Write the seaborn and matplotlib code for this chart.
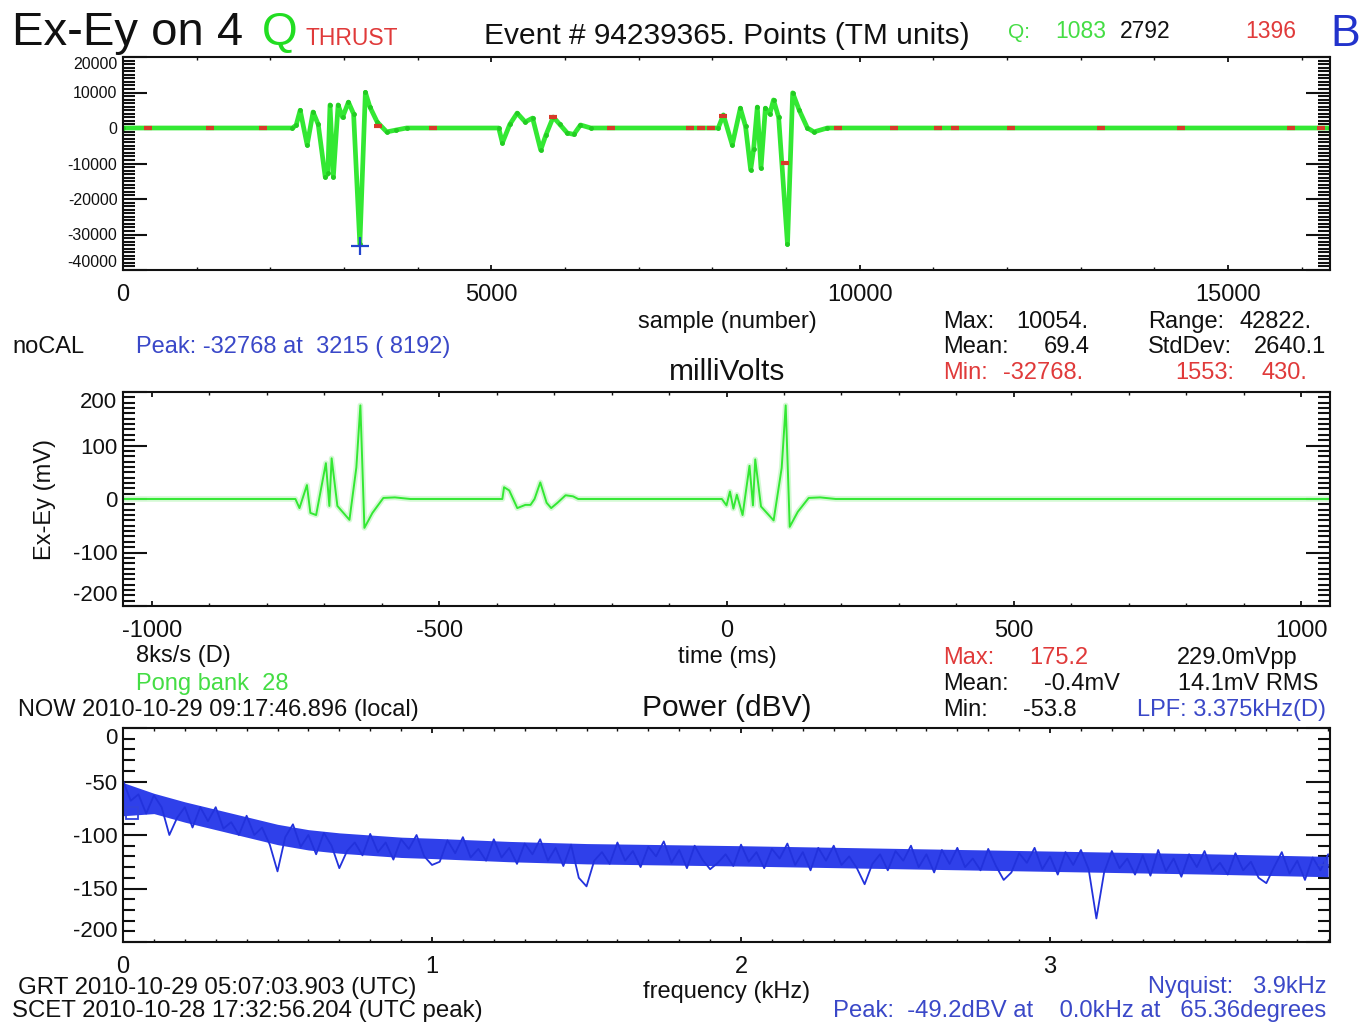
import numpy as np
import matplotlib
matplotlib.use("Agg")
import matplotlib.pyplot as plt
from matplotlib.ticker import MultipleLocator, FixedLocator, FuncFormatter
import seaborn as sns

# ---------------- data ----------------
# Panel 1: raw waveform (TM units) vs sample number
p1_sample = [0, 2300, 2350, 2405, 2500, 2580, 2650, 2745, 2780, 2810, 2855, 2920, 2980,
             3060, 3130, 3215, 3290, 3350, 3450, 3580, 3700, 3850,
             5100, 5150, 5250, 5350, 5460, 5560, 5670, 5740, 5840, 5930, 6030, 6120, 6210, 6350,
             8080, 8150, 8270, 8380, 8450, 8520, 8560, 8610, 8660, 8720, 8780, 8830, 8900,
             9020, 9090, 9180, 9290, 9380, 9560, 16384]
p1_value = [0, 0, 800, 5000, -4800, 4500, 1000, -13800, -12800, 6500, -13800, 6500, 3000,
            7300, 4000, -32768, 10054, 6000, 1700, -1100, -600, 0,
            0, -4200, 1000, 4200, 1700, 2800, -6200, -2000, 3100, 1000, -1400, -1800, 850, 0,
            0, 3700, -4800, 5600, 500, -11800, -6000, 5900, -11300, 5600, 4000, 7900, 3000,
            -32768, 9900, 5000, 0, -1100, 0, 0]
red_sample = [340, 1180, 1900, 3465, 4210, 5840, 6620, 7700, 7840, 7975, 8150, 8990,
              9700, 10460, 11060, 11300, 12050, 13270, 14360, 15860, 16260]
red_value = [0, 0, 0, 600, 0, 3000, 0, 0, 0, 0, 3500, -9900,
             0, 0, 0, 0, 0, 0, 0, 0, 0]
peak_sample = 3215
peak_value = -33300

# Panel 2: calibrated waveform (mV) vs time (ms)
p2_time = [-1050, -750, -743, -730, -724, -714, -697, -691, -687, -677, -656, -644, -637,
           -630, -616, -597, -577, -550,
           -390, -387, -378, -364, -350, -341, -334, -324, -313, -305, -294, -280, -267, -258,
           -8, 0, 6, 12, 18, 28, 40, 46, 50, 60, 82, 96, 103, 110, 124, 143, 163, 190, 1050]
p2_mv = [0, 0, -17, 26, -26, -30, 67, -13, 76, -13, -39, 59, 175,
         -54, -26, 2, 3, 0,
         0, 22, 16, -17, -11, -11, 0, 31, -7, -17, -7, 7, 5, 0,
         0, -12, 14, -18, 8, -30, 62, -12, 74, -14, -40, 58, 175, -52, -24, 2, 3, 0, 0]

# Panel 3: power spectrum (dBV), one value every 0.025 kHz from 0 to 3.9 kHz
spec_db = [-49, -68, -62, -80, -63, -74, -100, -84, -74, -93, -74, -87, -74, -94, -88, -100,
           -82, -100, -93, -109, -134, -102, -90, -111, -100, -118, -98, -110, -131, -115, -107, -119,
           -99, -116, -107, -123, -104, -113, -100, -120, -128, -125, -105, -117, -102, -121, -113, -124,
           -104, -121, -112, -127, -108, -118, -104, -124, -112, -129, -109, -140, -148, -124, -116, -127,
           -107, -124, -115, -130, -111, -120, -106, -126, -114, -131, -110, -123, -132, -126, -118, -129,
           -109, -125, -116, -131, -113, -122, -108, -128, -116, -133, -112, -124, -110, -128, -120, -131,
           -146, -127, -118, -133, -115, -124, -110, -130, -118, -135, -114, -127, -112, -130, -122, -133,
           -113, -129, -142, -135, -117, -126, -112, -132, -120, -137, -116, -128, -114, -132, -178, -135,
           -115, -131, -122, -137, -119, -138, -114, -134, -122, -139, -118, -130, -115, -134, -126, -137,
           -117, -133, -125, -140, -145, -130, -116, -136, -124, -142, -121, -133, -118]
spec_step_khz = 0.025
env_f = [0.0, 0.1, 0.2, 0.3, 0.4, 0.5, 0.6, 0.7, 0.8, 0.9, 1.0, 1.25, 1.5, 1.75, 2.0, 2.5, 3.0, 3.5, 3.9]
env_hi = [-51, -61, -69, -76, -83, -90, -95, -98, -100, -102, -103, -106, -108, -109, -110, -112.5, -115, -117.5, -120]
env_lo = [-82, -80, -88, -95, -102, -109, -114, -117, -119, -121, -122, -125, -127, -128, -129, -131.5, -134, -136.5, -139]

# ---------------- style ----------------
sns.set_theme(style="white")
plt.rcParams["font.family"] = ["Liberation Sans", "DejaVu Sans"]
plt.rcParams["axes.unicode_minus"] = False

W, H = 1364, 1023
fig = plt.figure(figsize=(W / 100, H / 100), dpi=100)
fig.patch.set_facecolor("white")


def rect(l, t, r, b):
    return [l / W, 1 - b / H, (r - l) / W, (b - t) / H]


ax1 = fig.add_axes(rect(123, 57, 1330, 270))
ax2 = fig.add_axes(rect(123, 392, 1330, 606))
ax3 = fig.add_axes(rect(123, 728, 1330, 942))

GREEN = "#33e833"
RED = "#d83a2a"
TBLUE = "#3a48c8"
TGREEN = "#44dd44"
TRED = "#e03a3a"


def style_axes(ax, xmaj, xmin, ymin, yticks, xlim, ylim, ylabsize=16):
    ax.set_xlim(*xlim)
    ax.set_ylim(*ylim)
    ax.xaxis.set_major_locator(MultipleLocator(xmaj))
    ax.xaxis.set_minor_locator(MultipleLocator(xmin))
    ax.yaxis.set_major_locator(FixedLocator(yticks))
    ax.yaxis.set_minor_locator(MultipleLocator(ymin))
    ax.xaxis.set_major_formatter(FuncFormatter(lambda v, p: "%d" % round(v)))
    ax.yaxis.set_major_formatter(FuncFormatter(lambda v, p: "%d" % round(v)))
    ax.tick_params(axis="x", which="major", direction="in", top=True, bottom=True,
                   length=3.5, width=1.3, labelsize=17, pad=10, colors="#111111")
    ax.tick_params(axis="x", which="minor", direction="in", top=True, bottom=True,
                   length=2, width=1.0, colors="#111111")
    ax.tick_params(axis="y", which="major", direction="in", left=True, right=True,
                   length=17, width=1.5, labelsize=ylabsize, pad=4, colors="#111111")
    ax.tick_params(axis="y", which="minor", direction="in", left=True, right=True,
                   length=8.5, width=1.5, colors="#111111")
    for s in ax.spines.values():
        s.set_linewidth(1.5)
        s.set_color("#111111")
        s.set_visible(True)
    ax.set_xlabel("")
    ax.set_ylabel("")
    ticks = ax.yaxis.get_major_ticks()
    ticks[0].label1.set_va("bottom")
    ticks[-1].label1.set_va("top")


# ---------------- panel 1 ----------------
sns.lineplot(x=p1_sample, y=p1_value, ax=ax1, color=GREEN, lw=3.4, sort=False, estimator=None)
ax1.plot(p1_sample, p1_value, ls="none", marker="o", ms=2.5, color="#22cc22")
ax1.plot(red_sample, red_value, ls="none", marker="_", ms=6, mew=3, color=RED)
ax1.plot([peak_sample], [peak_value], ls="none", marker="+", ms=13, mew=1.6, color="#2244cc")
style_axes(ax1, 5000, 1000, 1000, [-40000, -30000, -20000, -10000, 0, 10000, 20000],
           (0, 16384), (-40000, 20000), ylabsize=11.5)

# ---------------- panel 2 ----------------
sns.lineplot(x=p2_time, y=p2_mv, ax=ax2, color="#b8f5b8", lw=4, sort=False, estimator=None, alpha=0.6)
sns.lineplot(x=p2_time, y=p2_mv, ax=ax2, color=GREEN, lw=1.4, sort=False, estimator=None)
style_axes(ax2, 500, 100, 10, [-200, -100, 0, 100, 200], (-1050, 1050), (-200, 200))
ax2.set_ylabel("Ex-Ey (mV)", fontsize=17, color="#111111", labelpad=12)

# ---------------- panel 3 ----------------
freq_khz = np.arange(len(spec_db)) * spec_step_khz
ax3.fill_between(env_f, env_lo, env_hi, color="#2f40ea", lw=0)
sns.lineplot(x=freq_khz, y=spec_db, ax=ax3, color="#2232dc", lw=1.3, sort=False, estimator=None)
ax3.plot([0.03], [-79], ls="none", marker="s", mfc="none", mec="#3344dd", ms=9, mew=1.3)
ax3.plot([3.89], [-128], ls="none", marker="+", ms=10, mew=1.3, color="#3344dd")
style_axes(ax3, 1, 0.1, 10, [-200, -150, -100, -50, 0], (0, 3.906), (-200, 0))


# ---------------- texts ----------------
def ftxt(x, y, s, color="#111111", size=17, ha="left"):
    fig.text(x / W, 1 - y / H, s, color=color, fontsize=size, ha=ha, va="baseline")


ftxt(12, 45, "Ex-Ey on 4", size=34)
ftxt(262, 45, "Q", color="#22dd22", size=33)
ftxt(305, 45, "THRUST", color=TRED, size=16.5)
ftxt(484, 44, "Event # 94239365. Points (TM units)", size=21.5)
ftxt(1008, 38, "Q:", color=TGREEN, size=15)
ftxt(1055, 38, "1083", color=TGREEN, size=16.5)
ftxt(1120, 38, "2792", size=16.5)
ftxt(1245, 38, "1396", color=TRED, size=16.5)
ftxt(1330, 46, "B", color="#2233cc", size=32)

ftxt(727, 328, "sample (number)", ha="center")
ftxt(943, 328, "Max:")
ftxt(1088, 328, "10054.", ha="right")
ftxt(1148, 328, "Range:")
ftxt(1312, 328, "42822.", ha="right")
ftxt(12, 353, "noCAL")
ftxt(136, 353, "Peak: -32768 at  3215 ( 8192)", color=TBLUE)
ftxt(943, 353, "Mean:")
ftxt(1090, 353, "69.4", ha="right")
ftxt(1148, 353, "StdDev:")
ftxt(1326, 353, "2640.1", ha="right")
ftxt(727, 380, "milliVolts", ha="center", size=21.5)
ftxt(943, 379, "Min:", color=TRED)
ftxt(1083, 379, "-32768.", color=TRED, ha="right")
ftxt(1175, 379, "1553:", color=TRED)
ftxt(1307, 379, "430.", color=TRED, ha="right")

ftxt(136, 662, "8ks/s (D)")
ftxt(727, 663, "time (ms)", ha="center")
ftxt(943, 664, "Max:", color=TRED)
ftxt(1088, 664, "175.2", color=TRED, ha="right")
ftxt(1297, 664, "229.0mVpp", ha="right")
ftxt(136, 690, "Pong bank  28", color=TGREEN)
ftxt(943, 690, "Mean:")
ftxt(1120, 690, "-0.4mV", ha="right")
ftxt(1318, 690, "14.1mV RMS", ha="right")
ftxt(18, 716, "NOW 2010-10-29 09:17:46.896 (local)")
ftxt(727, 716, "Power (dBV)", ha="center", size=21.5)
ftxt(943, 716, "Min:")
ftxt(1077, 716, "-53.8", ha="right")
ftxt(1326, 716, "LPF: 3.375kHz(D)", color=TBLUE, ha="right")

ftxt(18, 994, "GRT 2010-10-29 05:07:03.903 (UTC)", size=17.3)
ftxt(12, 1017, "SCET 2010-10-28 17:32:56.204 (UTC peak)", size=17.3)
ftxt(727, 998, "frequency (kHz)", ha="center")
ftxt(1326, 993, "Nyquist:   3.9kHz", color=TBLUE, ha="right")
ftxt(1326, 1017, "Peak:  -49.2dBV at    0.0kHz at   65.36degrees", color=TBLUE, ha="right", size=17.2)

fig.savefig("out.png", dpi=100, facecolor="white")
